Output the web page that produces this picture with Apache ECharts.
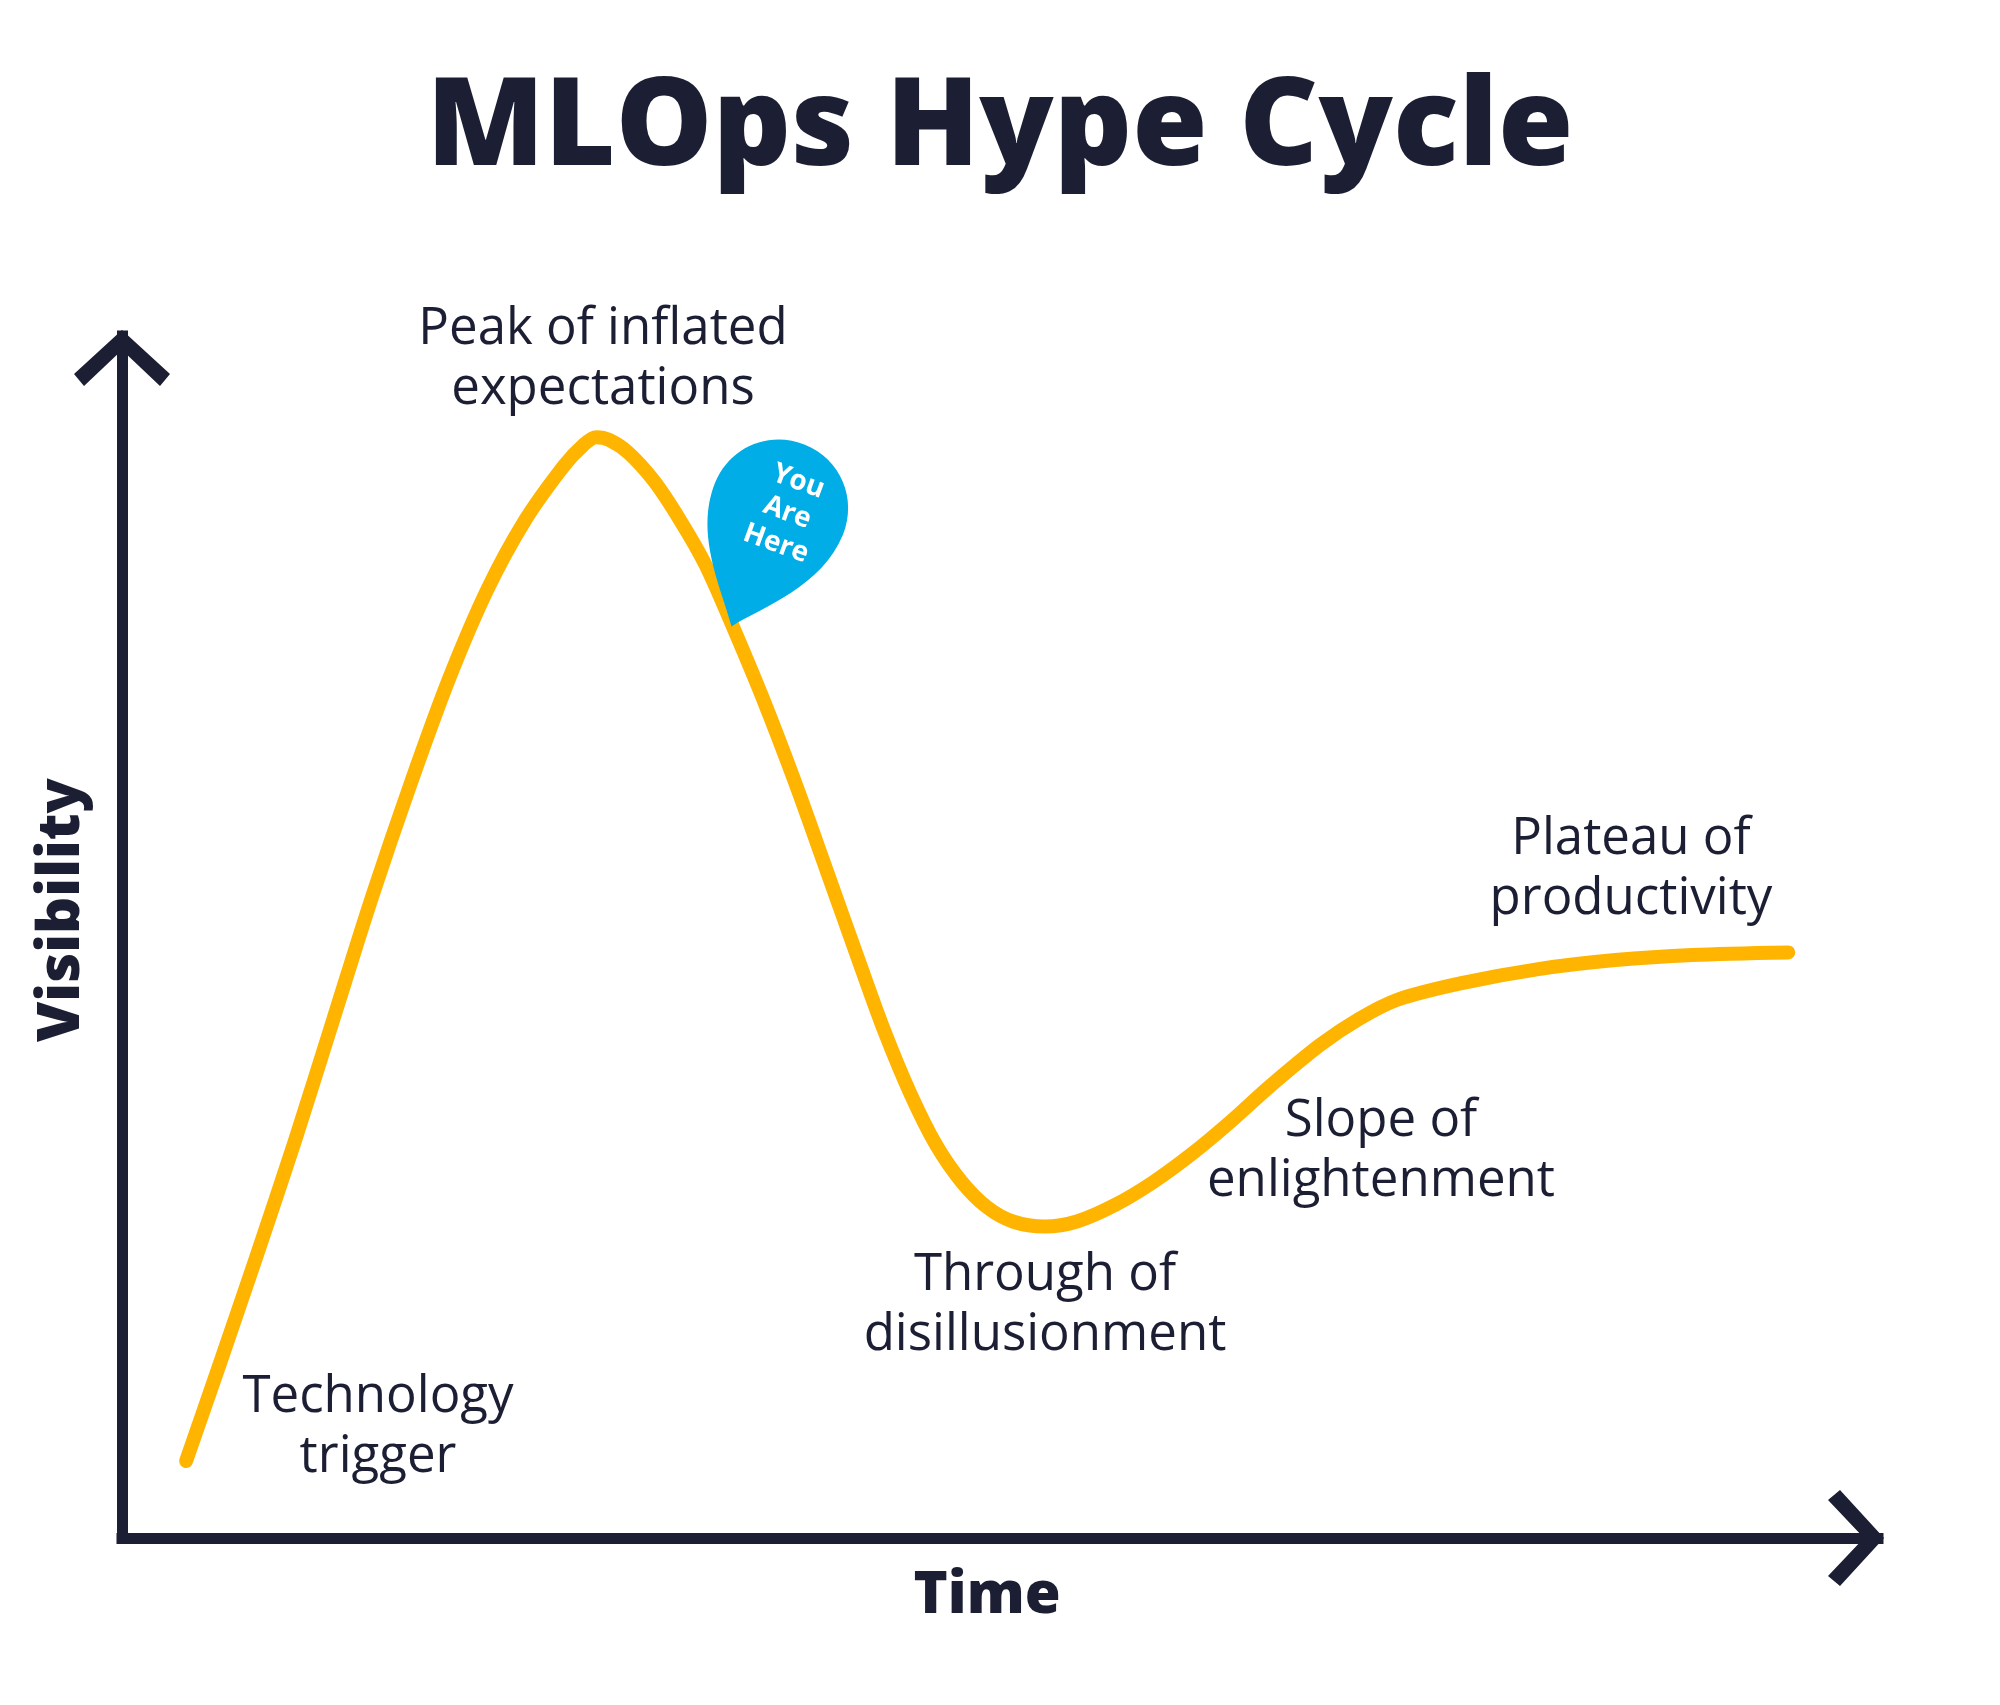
<!DOCTYPE html>
<html><head><meta charset="utf-8">
<script src="https://cdn.jsdelivr.net/npm/echarts@6/dist/echarts.min.js"></script>
<style>html,body{margin:0;padding:0;background:#fff}#c{width:2000px;height:1705px}</style>
</head><body><div id="c"></div>
<script>
const curveX = [3.65,5.47,7.66,9.85,12.04,14.23,16.42,18.61,20.80,22.99,25.18,26.28,27.01,27.74,28.83,30.29,31.75,33.21,34.67,36.50,38.32,40.15,41.97,43.43,44.89,46.35,47.81,49.27,50.73,52.55,54.38,56.57,58.76,60.95,63.14,65.33,68.25,70.44,72.63,76.28,80.66,85.04,89.42,94.89];
const curveY = [6.40,14.07,23.45,33.05,43.18,53.30,62.69,71.43,78.89,84.75,89.23,90.94,91.58,91.36,90.30,87.95,84.75,81.02,76.23,69.83,62.90,55.44,47.97,42.11,36.99,32.73,29.64,27.51,26.33,25.91,26.33,27.72,29.64,31.98,34.65,37.53,41.04,43.18,44.78,46.16,47.33,48.08,48.51,48.72];
const phaseLabels = ["Technology\ntrigger","Peak of inflated\nexpectations","Through of\ndisillusionment","Slope of\nenlightenment","Plateau of\nproductivity"];
const phasePos = [[378,1427],[603,359],[1045,1305],[1381,1151],[1631,869]];
const pinPoint = [36.8,83.4];
const pinText = 'You\nAre\nHere';

const ink = '#1c1e33';
const font = '"Open Sans", sans-serif';
const chev = 'path://M0,0 L12,11 L9.5,14 L0,5 L-9.5,14 L-12,11 Z';
const pinPath = 'path://M0,0 C-22,-30 -68,-70 -68,-125 C-68,-163 -38,-193 0,-193 C38,-193 68,-163 68,-125 C68,-70 22,-30 0,0 Z';
const chart = echarts.init(document.getElementById('c'));
const axisCommon = {
  min:0,max:100,interval:10,
  axisLine:{show:true,lineStyle:{color:ink,width:11,cap:'square'},symbol:['none',chev],symbolSize:[96,72],symbolOffset:[0,-22]},
  axisTick:{show:false},axisLabel:{show:false},splitLine:{show:false}
};
chart.setOption({
  animation:false,
  title:{text:'MLOps Hype Cycle',left:'center',top:64,textStyle:{fontSize:122,fontWeight:800,color:ink,fontFamily:font}},
  grid:{left:122,right:122,top:336,bottom:167},
  xAxis:Object.assign({type:'value'},axisCommon),
  yAxis:Object.assign({type:'value'},axisCommon),
  series:[{
    type:'line',smooth:0.3,symbol:'none',
    data:curveX.map((x,i)=>[x,curveY[i]]),
    lineStyle:{color:'#FFB400',width:14,cap:'round',join:'round'},
    markPoint:{
      symbol:pinPath,symbolSize:[138,196],symbolRotate:-22,
      itemStyle:{color:'#00ADE6'},
      label:{show:true,position:'inside',formatter:pinText,color:'#fff',fontWeight:'bold',fontSize:28,lineHeight:33,fontFamily:font,rotate:-20,offset:[10,-28]},
      data:[{coord:pinPoint}]
    }
  }],
  graphic:phaseLabels.map((t,i)=>({type:'text',x:phasePos[i][0],y:phasePos[i][1],
      style:{text:t,fill:ink,font:'500 51px '+font,align:'center',verticalAlign:'middle',lineHeight:60}}))
    .concat([
      {type:'text',x:987,y:1596,style:{text:'Time',fill:ink,font:'800 58px '+font,align:'center',verticalAlign:'middle'}},
      {type:'text',x:62,y:910,rotation:Math.PI/2,style:{text:'Visibility',fill:ink,font:'800 58px '+font,align:'center',verticalAlign:'middle'}}
    ])
});
</script></body></html>
